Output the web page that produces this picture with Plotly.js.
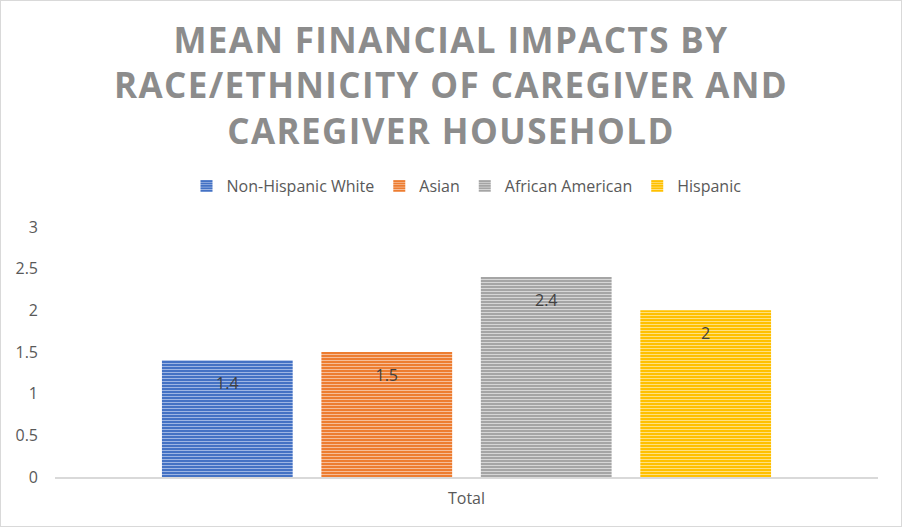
<!DOCTYPE html>
<html>
<head>
<meta charset="utf-8">
<script src="https://cdn.plot.ly/plotly-3.0.1.min.js"></script>
<style>
  html, body { margin: 0; padding: 0; background: #fff; }
  #chart { width: 900px; height: 525px; border: 1px solid #d9d9d9; }
  #chart .gtitle { letter-spacing: 1.4px; }
</style>
</head>
<body>
<div id="chart"></div>
<script>
const categories = ["Total"];
const seriesNames = ["Non-Hispanic White", "Asian", "African American", "Hispanic"];
const seriesValues = [[1.4], [1.5], [2.4], [2]];
const seriesColors = ["#4472C4", "#ED7D31", "#A5A5A5", "#FFC000"];
const lineColors = ["#9db5e3", "#f6bd98", "#d6d6d6", "#ffe080"];
const yTicks = [0, 0.5, 1, 1.5, 2, 2.5, 3];
const titleText = "MEAN FINANCIAL IMPACTS BY<br>RACE/ETHNICITY OF CAREGIVER AND<br>CAREGIVER HOUSEHOLD";

const traces = seriesNames.map((name, i) => ({
  type: "bar",
  name: name,
  x: categories,
  y: seriesValues[i],
  text: seriesValues[i].map(v => String(v)),
  textposition: "inside",
  insidetextanchor: "end",
  textfont: { family: "Open Sans, sans-serif", size: 16, color: "#404040" },
  marker: {
    color: seriesColors[i],
    line: { width: 0 },
    pattern: { shape: "-", fgcolor: lineColors[i], bgcolor: seriesColors[i], size: 3, solidity: 0.35, fillmode: "replace" }
  },
  hoverinfo: "none"
}));

const layout = {
  width: 900,
  height: 525,
  margin: { l: 54, r: 23, t: 226, b: 49 },
  paper_bgcolor: "#ffffff",
  plot_bgcolor: "#ffffff",
  font: { family: "Open Sans, sans-serif", color: "#595959", size: 16 },
  title: {
    text: titleText,
    font: { family: "Open Sans, sans-serif", size: 35, color: "#8c8c8c", weight: 700 },
    x: 0.5, xanchor: "center",
    y: 0.901, yanchor: "top", yref: "container"
  },
  barmode: "group",
  bargap: 0.225,
  bargroupgap: 0.18,
  showlegend: true,
  legend: {
    orientation: "h",
    x: 0.5, xanchor: "center",
    y: 1.164, yanchor: "middle",
    font: { size: 16, color: "#595959" },
    itemclick: false, itemdoubleclick: false,
    traceorder: "normal"
  },
  xaxis: {
    type: "category",
    showline: true, linecolor: "#d9d9d9", linewidth: 2,
    ticks: "", showgrid: false, zeroline: false,
    ticklabelstandoff: 6,
    tickfont: { size: 16, color: "#595959" },
    fixedrange: true
  },
  yaxis: {
    range: [0, 3],
    tickvals: yTicks,
    ticktext: yTicks.map(String),
    showgrid: false, zeroline: false, showline: false,
    ticks: "", ticklabelstandoff: 16,
    tickfont: { size: 16, color: "#595959" },
    fixedrange: true
  }
};

Plotly.newPlot("chart", traces, layout, { displayModeBar: false, staticPlot: true }).then(function (gd) {
  gd.querySelectorAll(".bars text.bartext").forEach(function (t) {
    const y = parseFloat(t.getAttribute("y") || "0");
    t.setAttribute("y", String(y + 9));
  });
});
</script>
</body>
</html>
